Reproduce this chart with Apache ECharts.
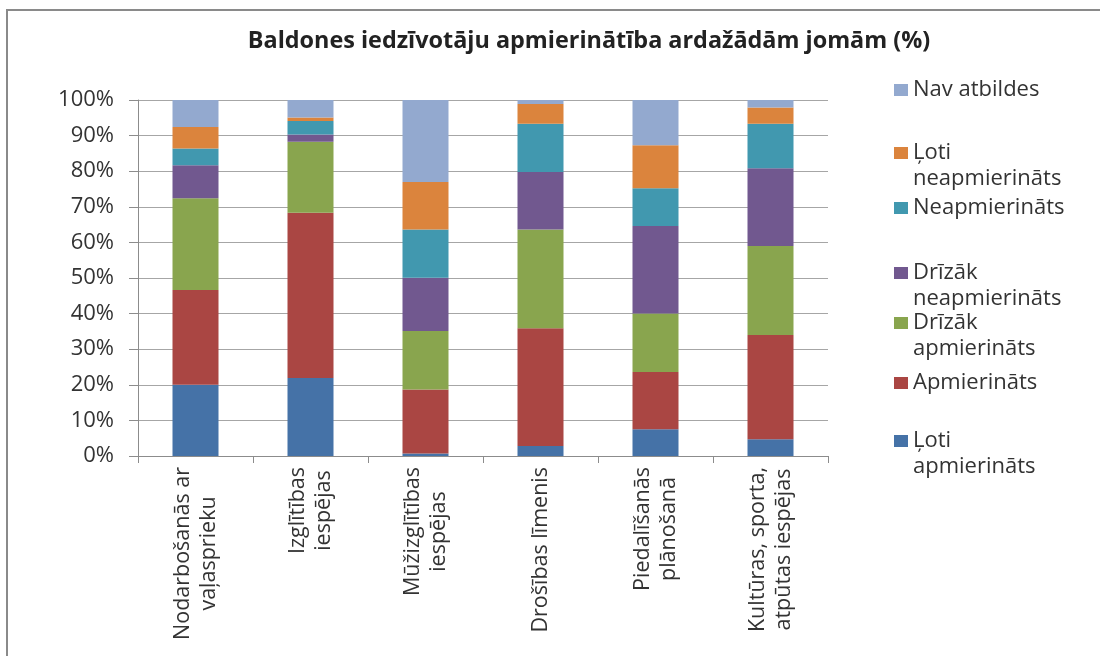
<!DOCTYPE html>
<html>
<head>
<meta charset="utf-8">
<script src="https://cdn.jsdelivr.net/npm/echarts@6/dist/echarts.min.js"></script>
<style>html,body{margin:0;padding:0;background:#fff}#c{width:1100px;height:656px}</style>
</head>
<body>
<div id="c"></div>
<script>
const categories = ["Nodarbošanās ar\nvaļasprieku", "Izglītības\niespējas", "Mūžizglītības\niespējas", "Drošības līmenis", "Piedalīšanās\nplānošanā", "Kultūras, sporta,\natpūtas iespējas"];
const seriesNames = ["Ļoti apmierināts", "Apmierināts", "Drīzāk apmierināts", "Drīzāk neapmierināts", "Neapmierināts", "Ļoti neapmierināts", "Nav atbildes"];
const legendLabels = ["Ļoti\napmierināts", "Apmierināts", "Drīzāk\napmierināts", "Drīzāk\nneapmierināts", "Neapmierināts", "Ļoti\nneapmierināts", "Nav atbildes"];
const lotiApmierinats = [20, 21.9, 0.7, 2.8, 7.5, 4.7];
const apmierinats = [26.6, 46.4, 18, 33.1, 16.1, 29.3];
const drizakApmierinats = [25.8, 20, 16.4, 27.7, 16.4, 25];
const drizakNeapmierinats = [9.3, 2, 15, 16.2, 24.6, 21.8];
const neapmierinats = [4.7, 3.8, 13.5, 13.5, 10.6, 12.5];
const lotiNeapmierinats = [6, 1, 13.4, 5.6, 12.1, 4.6];
const navAtbildes = [7.6, 4.9, 23, 1.1, 12.7, 2.1];
const yTicks = [0, 10, 20, 30, 40, 50, 60, 70, 80, 90, 100];

const values = [lotiApmierinats, apmierinats, drizakApmierinats, drizakNeapmierinats, neapmierinats, lotiNeapmierinats, navAtbildes];
const colors = ["#4572A7", "#AA4643", "#89A54E", "#71588F", "#4198AF", "#DB843D", "#93A9CF"];
const FONT = "Open Sans";
const TXT = "#333";
const FS = 21.5;

// legend icon centres (px) for each series, bottom series first
const legendCentres = [441, 383, 323, 273, 208, 153, 90];
const LH = 26;

const legends = seriesNames.map((name, i) => {
  const twoLine = legendLabels[i].indexOf("\n") >= 0;
  // a blank first line keeps the icon level with the first text line
  const label = twoLine ? " \n" + legendLabels[i] : legendLabels[i];
  return {
    show: true,
    orient: "vertical",
    left: 894,
    top: legendCentres[i] - (twoLine ? 1.5 * LH : LH / 2),
    padding: 0,
    itemWidth: 14,
    itemHeight: 12,
    selectedMode: false,
    data: [{ name: name, icon: "rect" }],
    formatter: () => label,
    textStyle: { fontFamily: FONT, fontSize: 22, color: TXT, lineHeight: LH }
  };
});

const chart = echarts.init(document.getElementById("c"), null, { renderer: "canvas" });
chart.setOption({
  animation: false,
  backgroundColor: "#fff",
  color: colors,
  title: {
    text: "Baldones iedzīvotāju apmierinātība ardažādām jomām (%)",
    left: 589,
    textAlign: "center",
    top: 30,
    padding: 0,
    textStyle: { fontFamily: FONT, fontSize: 23.4, fontWeight: "bold", color: "#222" }
  },
  graphic: [{
    type: "rect",
    shape: { x: 7, y: 10, width: 1120, height: 700 },
    style: { fill: "none", stroke: "#8a8a8a", lineWidth: 2 },
    silent: true
  }],
  legend: legends,
  grid: { left: 138, right: 272, top: 100, bottom: 200, containLabel: false },
  xAxis: {
    type: "category",
    data: categories,
    axisLine: { show: true, lineStyle: { color: "#8c8c8c", width: 1 } },
    axisTick: { show: true, length: 7, alignWithLabel: false, lineStyle: { color: "#8c8c8c" } },
    axisLabel: {
      rotate: 90,
      margin: 11,
      interval: 0,
      fontFamily: FONT,
      fontSize: FS,
      color: TXT,
      lineHeight: LH,
      formatter: v => v.split("\n").map(s => "{c|" + s + "}").join("\n"),
      rich: { c: { align: "center", fontFamily: FONT, fontSize: FS, color: TXT, lineHeight: LH } }
    }
  },
  yAxis: {
    type: "value",
    min: 0,
    max: 100,
    interval: 10,
    axisLine: { show: true, lineStyle: { color: "#8c8c8c", width: 1 } },
    axisTick: { show: true, length: 9, lineStyle: { color: "#8c8c8c" } },
    splitLine: { show: true, lineStyle: { color: "#a6a6a6", width: 1.2 } },
    axisLabel: {
      margin: 24,
      fontFamily: FONT,
      fontSize: 22,
      color: TXT,
      formatter: v => yTicks.indexOf(v) >= 0 ? v + "%" : ""
    }
  },
  series: seriesNames.map((name, i) => ({
    name: name,
    type: "bar",
    stack: "total",
    barWidth: 46,
    data: values[i],
    itemStyle: { color: colors[i] }
  }))
});
</script>
</body>
</html>
